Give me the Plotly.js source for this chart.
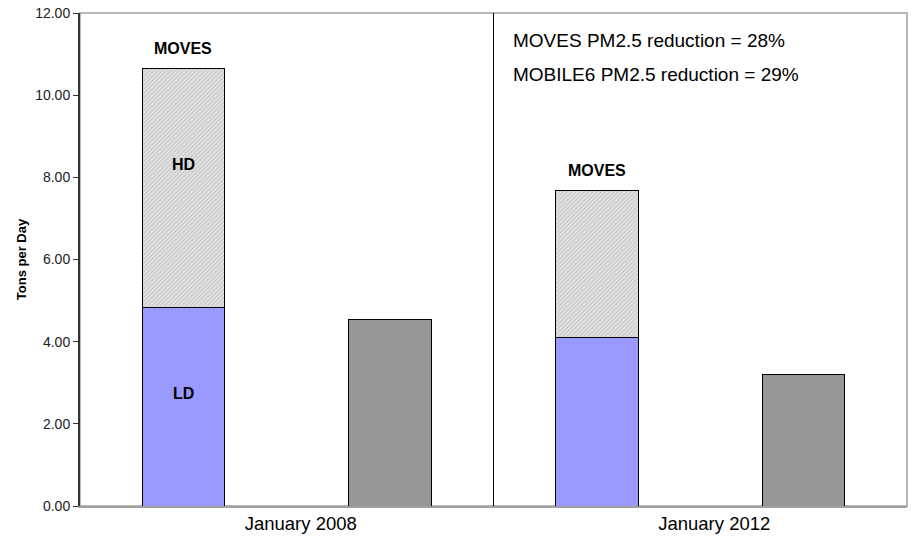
<!DOCTYPE html>
<html>
<head>
<meta charset="utf-8">
<script src="https://cdn.plot.ly/plotly-3.0.1.min.js"></script>
<style>html,body{margin:0;padding:0;background:#fff}#chart{width:912px;height:536px}</style>
</head>
<body>
<div id="chart"></div>
<script>
// Data
const periods = ["January 2008", "January 2012"];
const movesLD = [4.82, 4.09];
const movesHD = [5.84, 3.58];
const mobile6 = [4.53, 3.21];
const tickVals = [0, 2, 4, 6, 8, 10, 12];

// slot positions: each period has a MOVES slot and a MOBILE6 slot
const movesX = periods.map((p, i) => i * 2 + 0.5);
const mobX = periods.map((p, i) => i * 2 + 1.5);
const periodX = periods.map((p, i) => i * 2 + 1);
const movesTotal = movesLD.map((v, i) => v + movesHD[i]);

const font = "Liberation Sans, Arial, sans-serif";

const traces = [
  {
    type: "bar", x: movesX, y: movesLD, width: 0.4, name: "LD",
    marker: {color: "#9999ff", line: {color: "#000", width: 1}},
    hoverinfo: "y"
  },
  {
    type: "bar", x: movesX, y: movesHD, width: 0.4, name: "HD",
    marker: {
      color: "#e0e0e0",
      line: {color: "#000", width: 1},
      pattern: {shape: "/", size: 3, solidity: 0.3, fgcolor: "#c0c0c0", bgcolor: "#e2e2e2"}
    },
    hoverinfo: "y"
  },
  {
    type: "bar", x: mobX, y: mobile6, width: 0.4, name: "MOBILE6",
    marker: {color: "#969696", line: {color: "#000", width: 1}},
    hoverinfo: "y"
  }
];

const annotations = [];
movesX.forEach((x, i) => {
  annotations.push({x: x, y: movesTotal[i], xref: "x", yref: "y", text: "<b>MOVES</b>",
    showarrow: false, yshift: 20, font: {family: font, size: 16, color: "#000"}});
});
annotations.push({x: movesX[0], y: movesLD[0] + movesHD[0] * 0.6, xref: "x", yref: "y",
  text: "<b>HD</b>", showarrow: false, font: {family: font, size: 16, color: "#000"}});
annotations.push({x: movesX[0], y: movesLD[0] * 0.57, xref: "x", yref: "y",
  text: "<b>LD</b>", showarrow: false, font: {family: font, size: 16, color: "#000"}});

const movesRed = Math.round((1 - movesTotal[1] / movesTotal[0]) * 100);
const mobRed = Math.round((1 - mobile6[1] / mobile6[0]) * 100);

const L = 80, R = 5, T = 13, B = 30, W = 912, H = 536;
const pw = W - L - R, ph = H - T - B;
const px = v => (v - L) / pw;
const py = v => 1 - (v - T) / ph;

annotations.push({x: px(511), y: py(41), xref: "paper", yref: "paper", text: "MOVES PM2.5 reduction = " + movesRed + "%",
  showarrow: false, xanchor: "left", yanchor: "middle", font: {family: font, size: 19, color: "#000"}});
annotations.push({x: px(511), y: py(75), xref: "paper", yref: "paper", text: "MOBILE6 PM2.5 reduction = " + mobRed + "%",
  showarrow: false, xanchor: "left", yanchor: "middle", font: {family: font, size: 19, color: "#000"}});

const layout = {
  width: W, height: H,
  margin: {l: L, r: R, t: T, b: B, pad: 0},
  paper_bgcolor: "#fff", plot_bgcolor: "#fff",
  barmode: "stack", bargap: 0,
  showlegend: false,
  font: {family: font, color: "#000"},
  xaxis: {
    range: [0, periods.length * 2], tickvals: periodX, ticktext: periods,
    showgrid: false, zeroline: false, showline: true, linecolor: "#a0a0a0", linewidth: 1.5,
    ticks: "", ticklen: 0, ticklabelshift: 14,
    tickfont: {family: font, size: 18.5, color: "#000"}, fixedrange: true
  },
  yaxis: {
    range: [0, 12], tickvals: tickVals, tickformat: ".2f",
    showgrid: false, zeroline: false, showline: true, linecolor: "#333", linewidth: 2,
    ticks: "outside", ticklen: 5, tickcolor: "#333", tickwidth: 1,
    tickfont: {family: font, size: 14, color: "#222"},
    title: {text: "<b>Tons per Day</b>", font: {family: font, size: 13, color: "#000"}, standoff: 6},
    fixedrange: true
  },
  shapes: [
    {type: "rect", xref: "paper", yref: "paper", x0: 0, x1: 1, y0: 0, y1: 1,
      line: {color: "#a0a0a0", width: 1.5}, layer: "below"},
    {type: "line", xref: "x", yref: "paper", x0: periods.length, x1: periods.length, y0: 0, y1: 1,
      line: {color: "#000", width: 1}, layer: "above"}
  ],
  annotations: annotations
};

Plotly.newPlot("chart", traces, layout, {displayModeBar: false, staticPlot: true});
</script>
</body>
</html>
